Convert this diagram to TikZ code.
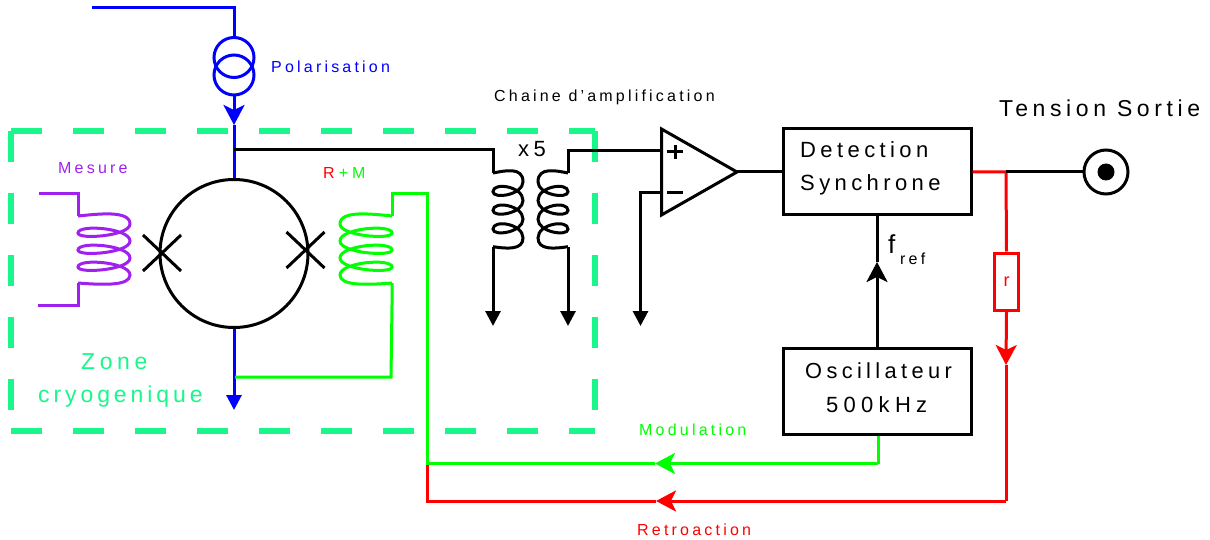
\documentclass[tikz,border=0pt]{standalone}
\usepackage{fontspec}
\usetikzlibrary{arrows.meta}
\setmainfont{Liberation Sans}
\newfontfamily\spB[LetterSpace=20]{Liberation Sans}
\newfontfamily\spC[LetterSpace=24]{Liberation Sans}
\newfontfamily\spD[LetterSpace=17]{Liberation Sans}
\definecolor{zonegreen}{HTML}{19F78A}
\definecolor{pur}{HTML}{A020F0}
\definecolor{gre}{HTML}{00FF00}
\definecolor{blu}{HTML}{0000FF}
\definecolor{rd}{HTML}{FF0000}
\newcommand{\mycoil}[5]{\begin{scope}[shift={(#1,#2)},xscale=#3,yscale=#4]
\draw[wire,#5] (0,0) .. controls (20,-2) and (52,-6) .. (52,8)
 .. controls (52,20) and (0,24) .. (0,17) .. controls (0,8) and (52,12) .. (52,25)
 .. controls (52,37) and (0,41) .. (0,34) .. controls (0,25) and (52,29) .. (52,42)
 .. controls (52,54) and (0,58) .. (0,51) .. controls (0,42) and (52,46) .. (52,59)
 .. controls (52,70) and (25,69) .. (0,67);
\end{scope}}
\tikzset{
 wire/.style={line width=3pt,line join=miter},
 zone/.style={zonegreen,line width=6pt,dash pattern=on 31pt off 31pt},
 barb/.style={-{Stealth[length=20pt,width=21pt,inset=5pt]}},
 solidtip/.style={-{Triangle[length=15pt,width=15pt]}},
 txt/.style={inner sep=0pt,anchor=base west},
 block/.style={draw,line width=3pt,minimum width=188pt,minimum height=86pt,inner sep=0pt},
 blockt/.style={txt,font=\fontsize{22}{26}\selectfont\spB},
 midt/.style={txt,font=\fontsize{16}{18}\selectfont\spB},
 ring/.style={circle,draw,inner sep=0pt},
}
\begin{document}
\begin{tikzpicture}[x=1pt,y=-1pt]
\useasboundingbox (0,0) rectangle (1210,540);
\fill[white] (0,0) rectangle (1210,540);
% zone
\coordinate (zTL) at (11,131); \coordinate (zTR) at (595,131);
\coordinate (zBL) at (11,431); \coordinate (zBR) at (595,431);
\draw[zone] (zTL) -- (zTR); \draw[zone] (zTL) -- (zBL);
\draw[zone] (zTR) -- (zBR); \draw[zone] (zBL) -- (zBR);
% squid
\node[ring,line width=3pt,minimum size=148pt] (squid) at (234,253.5) {};
\coordinate (jl) at (162,253); \coordinate (jr) at (305.5,250);
\draw[line width=3pt] ([shift={(-19,-18)}]jl) -- ([shift={(19,18)}]jl);
\draw[line width=3pt] ([shift={(-19,18)}]jl) -- ([shift={(19,-18)}]jl);
\draw[line width=3pt] ([shift={(-19,-18)}]jr) -- ([shift={(19,18)}]jr);
\draw[line width=3pt] ([shift={(-19,18)}]jr) -- ([shift={(19,-18)}]jr);
% polarisation
\coordinate (p0) at (92,8); \coordinate (p1) at (234,8);
\node[ring,blu,line width=3pt,minimum size=40pt] (src1) at (234,57.5) {};
\node[ring,blu,line width=3pt,minimum size=40pt] (src2) at (234,75) {};
\coordinate (ptip) at (234,125);
\draw[wire,blu] (p0) -- (p1) -- (src1.north);
\draw[wire,blu,barb] (src2.south) -- (ptip);
\draw[wire,blu] (ptip) -- (squid.north);
\coordinate (bend) at (234,410);
\draw[wire,blu,solidtip] (squid.south) -- (bend);
% purple coil
\mycoil{78}{216}{1}{1}{pur}
\coordinate (m1) at (39,194); \coordinate (m2) at (78,194); \coordinate (m3) at (78,216);
\coordinate (m4) at (78,283); \coordinate (m5) at (78,305); \coordinate (m6) at (38,305);
\draw[wire,pur] (m1) -- (m2) -- (m3);
\draw[wire,pur] (m4) -- (m5) -- (m6);
% green coil
\mycoil{392}{216}{-1}{1}{gre}
\coordinate (g1) at (392,216); \coordinate (g2) at (392,194); \coordinate (g3) at (427,194);
\coordinate (g4) at (427,463.5); \coordinate (g5) at (878,463.5);
\coordinate (g6) at (392,283); \coordinate (g7) at (391,377); \coordinate (g8) at (235,377);
\coordinate (gtip) at (655,463.5); \coordinate (rtip) at (656,501);
\coordinate (r1) at (427,501); \coordinate (r2) at (1006,501);
\coordinate (rj) at (1006,172); \coordinate (rdown) at (1006,365);
% blocks
\node[block] (det) at (877,172) {};
\node[block] (osc) at (877,391) {};
% red
\draw[wire,rd] (g4) -- (r1) -- (rtip);
\draw[wire,rd,barb] (r2) -- (rtip);
\draw[wire,rd] (rdown) -- (r2);
\node[draw=rd,line width=3pt,minimum width=24pt,minimum height=57pt,inner sep=0pt,text=rd] (res) at (1006.5,281.5)
  {\fontsize{18}{20}\selectfont r};
\draw[wire,rd] (det.east) -- (rj) -- (res.north);
\draw[wire,rd,barb] (res.south) -- (rdown);
% green wires
\draw[wire,gre] (g1) -- (g2) -- (g3) -- (g4) -- (gtip);
\draw[wire,gre,barb] (g5) -- (gtip);
\draw[wire,gre] (g5) -- (osc.south -| g5);
\draw[wire,gre] (g6) -- (392,305) -- (g7) -- (g8);
% transformer
\coordinate (t0) at (234,150); \coordinate (t1) at (493,150); \coordinate (t2) at (493,173);
\coordinate (t3) at (493,247); \coordinate (t4) at (493,326);
\coordinate (u1) at (568,173); \coordinate (u2) at (568,151);
\coordinate (u3) at (568,247); \coordinate (u4) at (568,326);
\mycoil{493}{173}{0.577}{1.1}{black}
\mycoil{568}{173}{-0.577}{1.1}{black}
\draw[wire] (t0) -- (t1) -- (t2);
\draw[wire,solidtip] (t3) -- (t4);
\draw[wire,solidtip] (u3) -- (u4);
% opamp
\coordinate (oa) at (661.5,129); \coordinate (ob) at (661.5,215); \coordinate (oc) at (737,172);
\coordinate (oplus) at (661.5,151); \coordinate (ominus) at (661.5,193);
\coordinate (om1) at (640.5,193); \coordinate (om2) at (640.5,326);
\draw[wire] (oa) -- (oc) -- (ob) -- cycle;
\draw[wire] (u1) -- (u2) -- (oplus);
\draw[wire,solidtip] (ominus) -- (om1) -- (om2);
\draw[line width=3pt] (667,151.5) -- (683,151.5);
\draw[line width=3pt] (675,145) -- (675,159);
\draw[line width=3pt] (667,193) -- (683,193);
\draw[wire] (oc) -- (det.west);
% f ref
\coordinate (ftip) at (877,262);
\draw[wire,barb] (osc.north) -- (ftip);
\draw[wire] (ftip) -- (det.south);
% output
\node[ring,line width=3pt,minimum size=44pt] (out) at (1106,172) {};
\node[circle,fill=black,inner sep=0pt,minimum size=17pt] (outdot) at (1106,172) {};
\draw[wire] (rj) -- (out.west);
% texts
\node[midt,blu] (tpol) at (271,73) {Polarisation};
\node[midt] (tamp) at (494,102) {Chaine d’amplification};
\node[txt,font=\fontsize{23}{26}\selectfont\spB] (tsort) at (999,117) {Tension Sortie};
\node[blockt] (t1a) at (800,158) {Detection};
\node[blockt] (t1b) at (800,191) {Synchrone};
\node[txt,font=\fontsize{21.8}{26}\selectfont\spB] (t2a) at (805,378) {Oscillateur};
\node[txt,font=\fontsize{22}{26}\selectfont\spC] (t2b) at (826,412) {500kHz};
\node[midt,gre] (tmod) at (639,435) {Modulation};
\node[midt,rd] (tret) at (637,535) {Retroaction};
\node[midt,pur] (tmes) at (58,174) {Mesure};
\node[txt,font=\fontsize{16}{18}\selectfont] (trm) at (323,179) {\textcolor{rd}{R}\hspace{4pt}\textcolor{gre}{+\hspace{4pt}M}};
\node[txt,font=\fontsize{23}{27}\selectfont\spB,zonegreen] (tz1) at (81,369) {Zone};
\node[txt,font=\fontsize{23}{27}\selectfont\spD,zonegreen] (tz2) at (38,402) {cryogenique};
\node[txt,font=\fontsize{22}{24}\selectfont\spB] (tx5) at (518,157) {x5};
\node[txt,font=\fontsize{26}{30}\selectfont] (tf) at (888,254) {f};
\node[txt,font=\fontsize{16}{18}\selectfont\spB] (tref) at (900,264) {ref};
\end{tikzpicture}
\end{document}
